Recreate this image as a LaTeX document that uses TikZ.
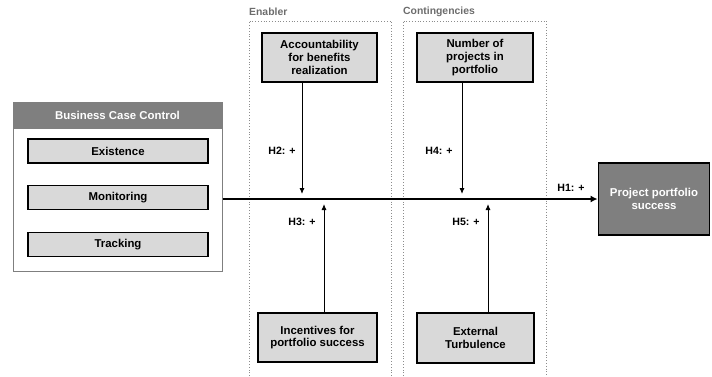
\documentclass[tikz,border=0pt]{standalone}
\usepackage{fontspec}
\setmainfont{Liberation Sans}
\usetikzlibrary{arrows.meta}
\definecolor{lgray}{HTML}{D9D9D9}
\definecolor{dgray}{HTML}{7F7F7F}
\definecolor{zgray}{HTML}{8C8C8C}
\tikzset{
  txt/.style={font=\fontsize{11.4}{12.8}\selectfont\bfseries, align=center, inner sep=0pt},
  lbox/.style={txt, draw=black, line width=1.6pt, fill=lgray, minimum height=24pt, minimum width=180pt},
  cbox/.style={txt, draw=black, line width=1.8pt, fill=lgray},
  hlab/.style={font=\fontsize{10.6}{12}\selectfont\bfseries, inner sep=0pt},
  grp/.style={draw=zgray, dotted, line width=0.8pt},
  grplab/.style={font=\fontsize{10.4}{12}\selectfont\bfseries, text=dgray!85!black, inner sep=0pt, anchor=west},
  arr/.style={line width=0.9pt, -{Latex[length=6pt,width=5pt]}},
  mainarr/.style={line width=2pt, -{Latex[length=7pt,width=7pt]}}
}
\begin{document}
\begin{tikzpicture}[x=1pt,y=-1pt]
\useasboundingbox (0,0) rectangle (712,376);
% groups
\draw[grp] (249,376) -- (249,21) -- (391,21) -- (391,376);
\draw[grp] (403,376) -- (403,21) -- (546,21) -- (546,376);
\node[grplab] (enl) at (249,12) {Enabler};
\node[grplab] (conl) at (403,12) {Contingencies};
% business case control
\node[draw=dgray, line width=1pt, fill=white, minimum width=209pt, minimum height=169pt, inner sep=0pt] (bcc) at (117.5,186.5) {};
\node[txt, fill=dgray, text=white, minimum width=209pt, minimum height=27pt] (bcch) at (117.5,115.5) {Business Case Control};
\node[lbox] (ex) at (118,151) {Existence};
\node[lbox] (mo) at (118,197.5) {Monitoring};
\node[lbox] (tr) at (118,244.5) {Tracking};
% moderators
\node[cbox, minimum width=115pt, minimum height=49pt] (acc) at (319.5,57.5) {Accountability\\for benefits\\realization};
\node[cbox, minimum width=116pt, minimum height=49pt] (num) at (475,57.5) {Number of\\projects in\\portfolio};
\node[cbox, minimum width=119pt, minimum height=49pt] (inc) at (317.5,337.5) {Incentives for\\portfolio success};
\node[cbox, minimum width=117pt, minimum height=50pt] (ext) at (475.5,338) {External\\Turbulence};
% outcome
\node[txt, draw=black, line width=1.8pt, fill=dgray, text=white, minimum width=111pt, minimum height=72pt] (pps) at (654,199) {Project portfolio\\success};
% main arrow
\draw[mainarr] (bcc.east |- pps.west) -- (pps.west);
% moderation arrows
\coordinate (t2) at (302,194);
\coordinate (t4) at (462,194);
\coordinate (t3) at (324,204);
\coordinate (t5) at (488,204);
\draw[arr] ([xshift=-17.5pt]acc.south) -- (t2);
\draw[arr] ([xshift=-13pt]num.south) -- (t4);
\draw[arr] ([xshift=6.5pt]inc.north) -- (t3);
\draw[arr] ([xshift=12.5pt]ext.north) -- (t5);
% labels
\node[hlab] (h1) at (571,188) {H1: +};
\node[hlab] (h2) at (282,151) {H2: +};
\node[hlab] (h4) at (439,151) {H4: +};
\node[hlab] (h3) at (302,222) {H3: +};
\node[hlab] (h5) at (466,222) {H5: +};
\end{tikzpicture}
\end{document}
